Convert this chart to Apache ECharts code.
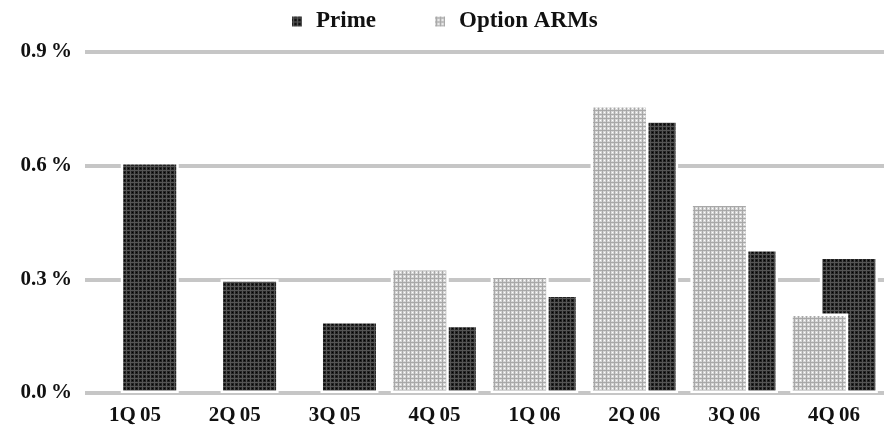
<!DOCTYPE html>
<html>
<head>
<meta charset="utf-8">
<script src="https://cdn.jsdelivr.net/npm/echarts@6/dist/echarts.min.js"></script>
<style>
  html, body { margin: 0; padding: 0; background: #fff; }
  #chart { width: 890px; height: 433px; }
</style>
</head>
<body>
<div id="chart"></div>
<script>
// Quarterly loss rates (percent)
const quarters = ['1Q05', '2Q05', '3Q05', '4Q05', '1Q06', '2Q06', '3Q06', '4Q06'];
const primeValues = [0.61, 0.30, 0.19, 0.18, 0.26, 0.72, 0.38, 0.36];
const optionArmValues = [null, null, null, 0.33, 0.31, 0.76, 0.50, 0.21];
const yTicks = { min: 0, max: 0.9, interval: 0.3 };

// Small repeating textures for the bar fills
function makePattern(base, line, dot) {
  const c = document.createElement('canvas');
  c.width = 4; c.height = 4;
  const g = c.getContext('2d');
  g.fillStyle = base; g.fillRect(0, 0, 4, 4);
  g.fillStyle = line; g.fillRect(2, 0, 1, 4); g.fillRect(0, 2, 4, 1);
  g.fillStyle = dot; g.fillRect(0, 0, 1, 1);
  return { image: c, repeat: 'repeat' };
}
const darkFill = makePattern('#222222', '#555555', '#000000');
const lightFill = makePattern('#d6d6d6', '#a8a8a8', '#ffffff');

const font = '"Liberation Serif", "Times New Roman", serif';
const THIN = '\u2009';

const chart = echarts.init(document.getElementById('chart'), null, { renderer: 'canvas' });
chart.setOption({
  animation: false,
  backgroundColor: '#ffffff',
  legend: {
    data: ['Prime', 'Option ARMs'],
    left: 285,
    top: 5,
    itemWidth: 12,
    itemHeight: 12,
    itemGap: 57,
    icon: 'rect',
    textStyle: { fontFamily: font, fontWeight: 'bold', fontSize: 23, color: '#111', padding: [0, 0, 0, 8] }
  },
  grid: { left: 85, right: 6, top: 52, bottom: 40, outerBoundsMode: 'none' },
  xAxis: {
    type: 'category',
    data: quarters,
    axisLine: { show: false },
    axisTick: { show: false },
    axisLabel: {
      fontFamily: font, fontWeight: 'bold', fontSize: 21, color: '#111', margin: 12,
      formatter: v => v.slice(0, 2) + THIN + v.slice(2)
    }
  },
  yAxis: {
    type: 'value',
    min: yTicks.min,
    max: yTicks.max,
    interval: yTicks.interval,
    axisLine: { show: false },
    axisTick: { show: false },
    axisLabel: {
      fontFamily: font, fontWeight: 'bold', fontSize: 21, color: '#111', margin: 13,
      formatter: v => v.toFixed(1) + THIN + '%'
    },
    splitLine: { lineStyle: { color: '#c6c6c6', width: 4 } }
  },
  series: [
    {
      name: 'Option ARMs',
      type: 'bar',
      z: 3,
      data: optionArmValues,
      barWidth: 58,
      barGap: '-49%',
      itemStyle: { color: lightFill, borderColor: '#ffffff', borderWidth: 2.5 }
    },
    {
      name: 'Prime',
      type: 'bar',
      z: 2,
      data: primeValues,
      barWidth: 58,
      barGap: '-49%',
      itemStyle: { color: darkFill, borderColor: '#ffffff', borderWidth: 2.5 }
    }
  ]
});
</script>
</body>
</html>
